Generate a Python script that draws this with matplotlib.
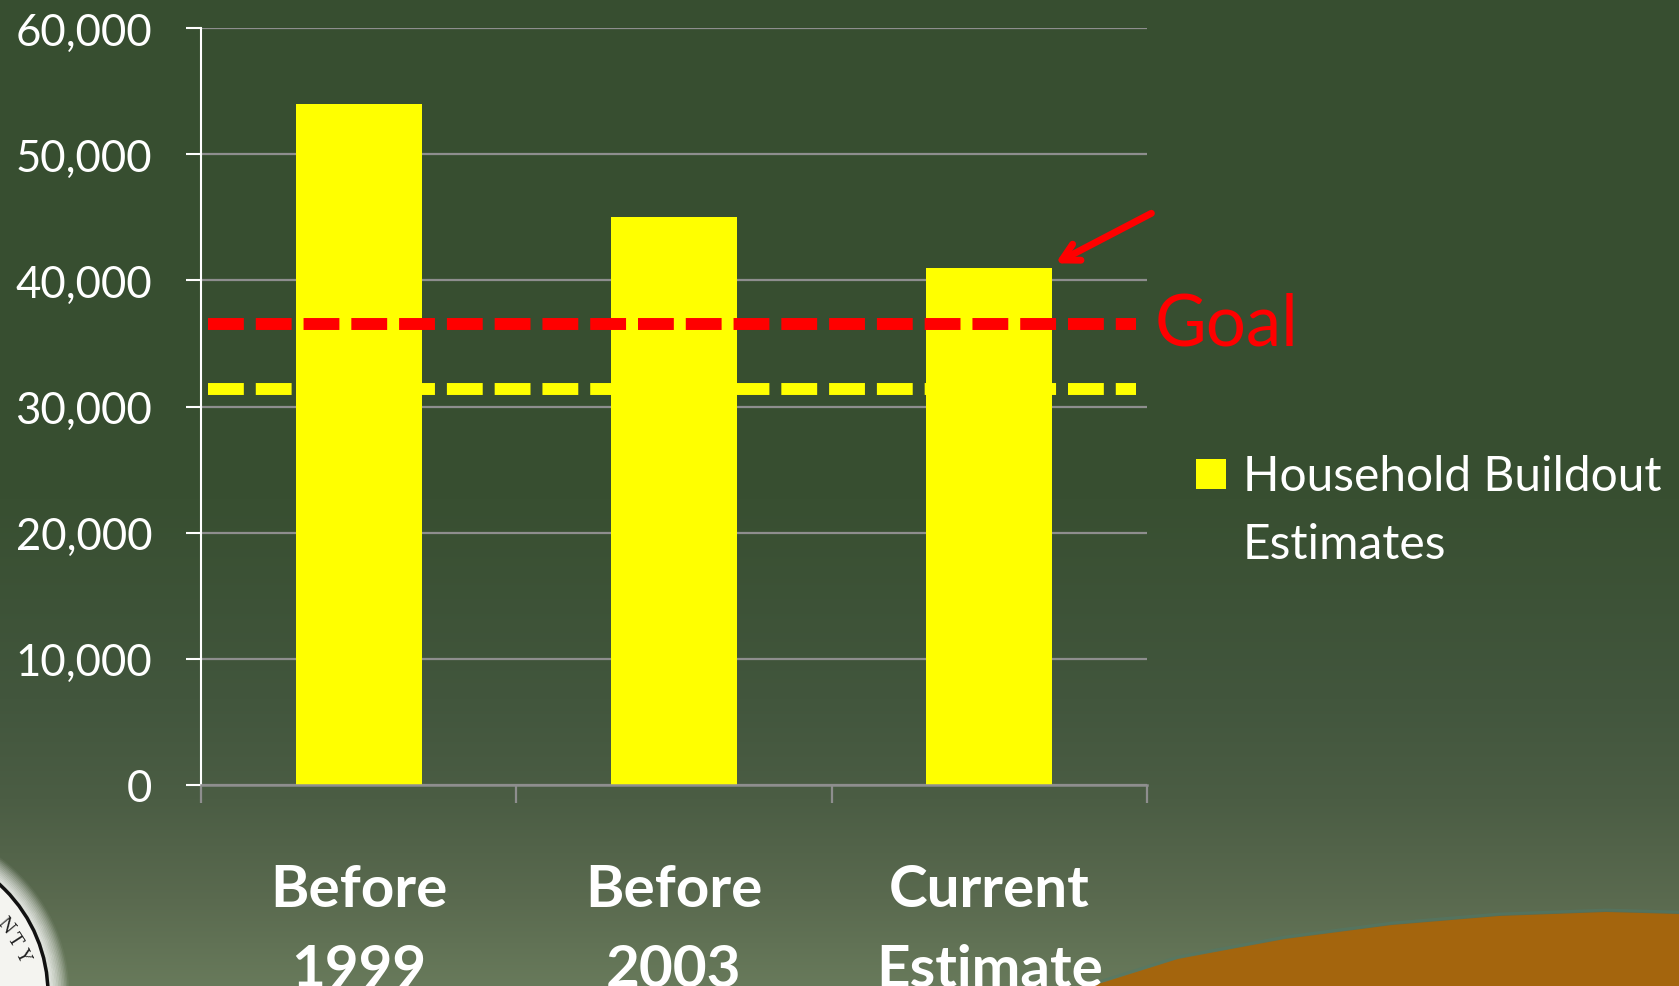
import matplotlib
matplotlib.use('Agg')
import matplotlib.pyplot as plt
import numpy as np
from matplotlib.patches import Rectangle, Circle, Polygon
from matplotlib.colors import to_rgb
import matplotlib.transforms as mtransforms

# ---------------- data ----------------
categories = ['Before\n1999', 'Before\n2003', 'Current\nEstimate']
values = [54000, 45000, 41000]
goal_value = 36500
lower_value = 31350
yticks = [0, 10000, 20000, 30000, 40000, 50000, 60000]
series_label = 'Household Buildout\nEstimates'
goal_label = 'Goal'

plt.rcParams['font.family'] = ['Lato', 'DejaVu Sans']

W, H = 1679, 987
fig = plt.figure(figsize=(W / 100, H / 100), dpi=100)

# ---------------- background ----------------
bg = fig.add_axes([0, 0, 1, 1], zorder=-10)
bg.set_xlim(0, W)
bg.set_ylim(H, 0)
bg.axis('off')
stops_y = [0, 500, 700, 800, 900, 987]
stops_c = ['#374E30', '#384F31', '#42563D', '#4B5D44', '#5A6A4F', '#687A5B']
ys = np.arange(H)
cols = np.array([to_rgb(c) for c in stops_c])
grad = np.stack([np.interp(ys, stops_y, cols[:, k]) for k in range(3)], axis=-1)
grad = np.repeat(grad[:, None, :], 2, axis=1)
bg.imshow(grad, extent=[0, W, H, 0], aspect='auto', interpolation='bilinear')

# orange swoosh
sx = [1092, 1178, 1285, 1392, 1499, 1606, 1679]
sy = [987, 960, 940, 926, 917, 913, 915]
poly = Polygon(list(zip(sx, sy)) + [(W, H), (1092, H)], closed=True,
               facecolor='#A4650D', edgecolor='none')
bg.add_patch(poly)
bg.plot(sx, [v - 2 for v in sy], color='#4E7A6C', lw=2, alpha=0.5)

# seal (bottom-left)
for i in range(12):
    r = 150 + i * 1.6
    bg.add_patch(Circle((-100, 995), r, facecolor='none', edgecolor='white',
                        lw=2.5, alpha=0.55 * (1 - i / 12)))
bg.add_patch(Circle((-100, 995), 148, facecolor='#F4F4F0', edgecolor='#111111', lw=2.5))
for ch, (cx, cy, rot) in zip('NTY', [(5, 926, -50), (14, 940, -57), (22, 955, -64)]):
    bg.text(cx, cy, ch, fontsize=13, family='DejaVu Serif', color='#222222',
            rotation=rot, ha='center', va='center')

# ---------------- main chart ----------------
left, right, top, bottom = 201, 1147, 29, 786
ax = fig.add_axes([left / W, 1 - bottom / H, (right - left) / W, (bottom - top) / H])
ax.set_facecolor('none')
x = np.arange(len(categories))
ax.bar(x, values, width=0.4, color='#FFFF00', zorder=2)
ax.set_xlim(-0.5, len(categories) - 0.5)
ax.set_ylim(0, 60000)

ax.set_yticks(yticks)
ax.set_yticklabels([f'{v:,}' for v in yticks])
ax.yaxis.grid(True, color='#8E8E8E', lw=1.6, zorder=0)
ax.set_axisbelow(True)

ax.set_xticks(np.arange(len(categories) + 1) - 0.5)
ax.set_xticklabels([])
ax.set_xticks(x, minor=True)
ax.set_xticklabels(categories, minor=True, fontweight='bold', linespacing=1.64)

for s in ['top', 'right']:
    ax.spines[s].set_visible(False)
ax.spines['left'].set_color('white')
ax.spines['left'].set_linewidth(1.5)
ax.spines['bottom'].set_color('#8E8E8E')
ax.spines['bottom'].set_linewidth(1.8)

ax.tick_params(axis='y', colors='white', length=11, width=1.5, pad=24,
               labelsize=31.5, labelcolor='white')
ax.tick_params(axis='x', which='major', length=13, width=1.6, color='#8E8E8E')
ax.tick_params(axis='x', which='minor', length=0, pad=56, labelsize=42,
               labelcolor='white')

# dashed reference lines
ax.axhline(goal_value, xmin=0.0074, xmax=0.988, color='#FF0000', lw=8.6,
           dashes=(3, 1), zorder=3)
ax.axhline(lower_value, xmin=0.0074, xmax=0.988, color='#FFFF00', lw=8.6,
           dashes=(3, 1), zorder=3)

# goal label
tr = mtransforms.blended_transform_factory(ax.transAxes, ax.transData)
ax.text(1.008, goal_value, goal_label, transform=tr, color='#FF0000',
        fontsize=51, ha='left', va='center', clip_on=False)

# arrow to current estimate
ax.annotate('', xy=(2.21, values[2] + 350), xycoords='data',
            xytext=(69, 36), textcoords='offset points',
            arrowprops=dict(arrowstyle='->,head_length=1.2,head_width=0.65',
                            color='#FF0000', lw=5, capstyle='round',
                            joinstyle='round', shrinkA=0, shrinkB=0),
            annotation_clip=False)

# legend (manual)
pix = mtransforms.Affine2D().scale(1 / W, -1 / H).translate(0, 1) + fig.transFigure
fig.patches.append(Rectangle((1196, 490), 30, -30, transform=pix,
                             facecolor='#FFFF00', edgecolor='none'))
fig.text(1243, 455, series_label, transform=pix, color='white', fontsize=34.5,
         ha='left', va='top', linespacing=1.665)

fig.savefig('out.png', dpi=100)
